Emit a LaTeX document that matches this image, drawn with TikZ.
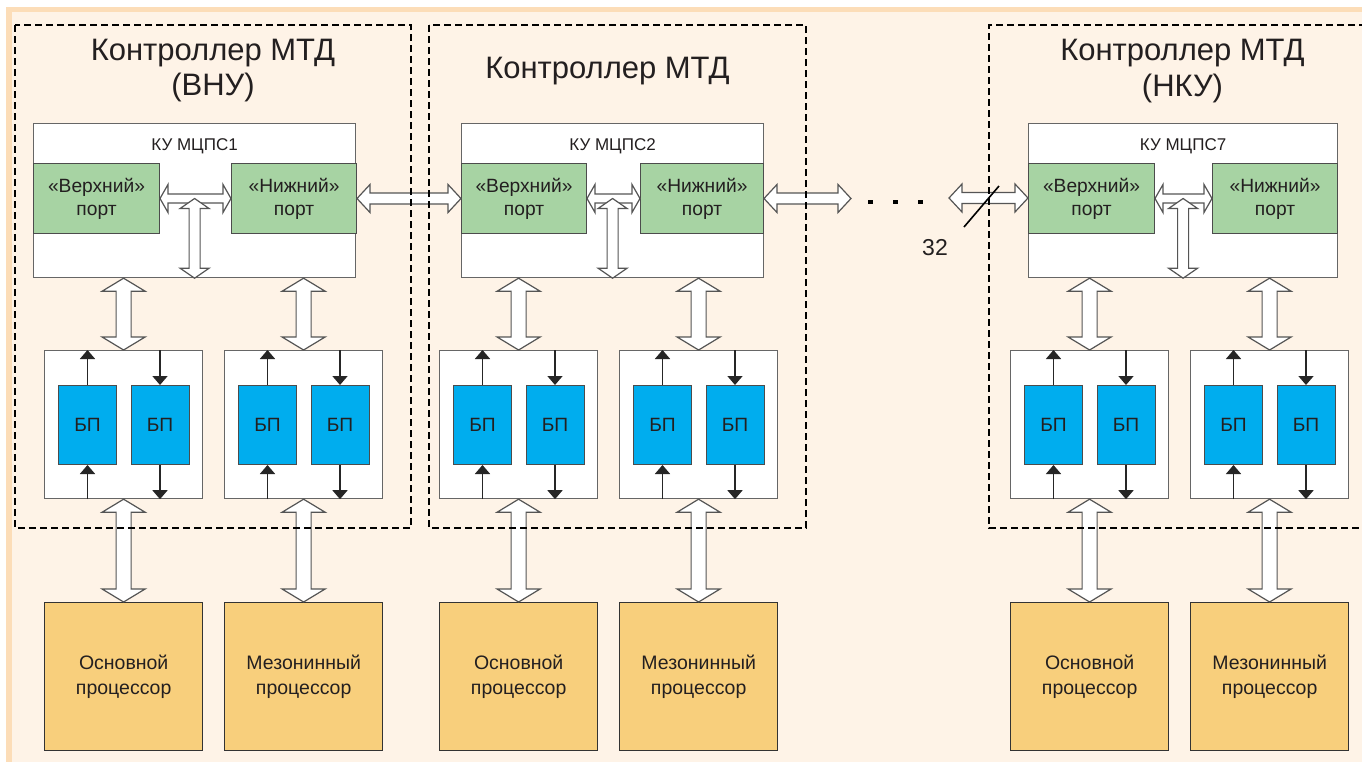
\documentclass[tikz,border=0pt]{standalone}
\usepackage{fontspec}
\setmainfont{Liberation Sans}
\usetikzlibrary{arrows.meta,calc}
\definecolor{cream}{HTML}{FEF3E7}
\definecolor{bandor}{HTML}{FCDDB8}
\definecolor{portgreen}{HTML}{A7D3A3}
\definecolor{bpblue}{HTML}{00ADEE}
\definecolor{procyel}{HTML}{F8CF7C}
\definecolor{arrgray}{HTML}{555555}
\definecolor{txt}{HTML}{231F20}
\newcommand\FatH[5]{%
  \path let \p1=#1, \p2=#2 in (\x1,\y1) coordinate (fa1) (\x2,\y1) coordinate (fa2);
  \draw[fatarrow] (fa1) -- ++(#5,#4) -- ++(0,-#4+#3) -- ($(fa2)+(-#5,#3)$) -- ++(0,#4-#3) -- (fa2)
    -- ++(-#5,-#4) -- ++(0,#4-#3) -- ($(fa1)+(#5,-#3)$) -- ++(0,-#4+#3) -- cycle;}
\newcommand\FatV[5]{%
  \path let \p1=#1, \p2=#2 in (\x1,\y1) coordinate (fa1) (\x1,\y2) coordinate (fa2);
  \draw[fatarrow] (fa1) -- ++(#4,#5) -- ++(-#4+#3,0) -- ($(fa2)+(#3,-#5)$) -- ++(#4-#3,0) -- (fa2)
    -- ++(-#4,-#5) -- ++(#4-#3,0) -- ($(fa1)+(-#3,#5)$) -- ++(-#4+#3,0) -- cycle;}
\newcommand\BPUnit[4]{%
  \node[bpbox] (#1) at (#2,350) {};
  \node[bpblk] (#1l) at (#2+14,385) {БП};
  \node[bpblk] (#1r) at (#2+86.5,385) {БП};
  \node[procbox] (#1p) at (#2,602) {#4};
  \draw[thinarr] (#1l.north) -- (#1l.north |- #1.north);
  \draw[thinarr] (#1l.south |- #1.south) -- (#1l.south);
  \draw[thinarr] (#1r.north |- #1.north) -- (#1r.north);
  \draw[thinarr] (#1r.south) -- (#1r.south |- #1.south);
  \FatV{(#1.north |- #3.south)}{(#1.north)}{7.5}{21.5}{13}
  \FatV{(#1.south)}{(#1p.north)}{7.5}{21.5}{13}}
\begin{document}
\begin{tikzpicture}[x=0.5pt,y=-0.5pt, every node/.style={text=txt},
  kubox/.style={draw=black!60, fill=white, line width=0.6pt, inner sep=0pt, anchor=north west, minimum height=77pt},
  portbox/.style={draw=black!70, fill=portgreen, line width=0.5pt, inner sep=0pt, anchor=north west, minimum height=35pt, align=center, font=\fontsize{9.6pt}{11.5pt}\selectfont},
  bpbox/.style={draw=black!60, fill=white, line width=0.6pt, inner sep=0pt, anchor=north west, minimum width=79pt, minimum height=74pt},
  bpblk/.style={draw=black!70, fill=bpblue, line width=0.5pt, inner sep=0pt, anchor=north west, minimum width=29pt, minimum height=39.5pt, font=\fontsize{9.6pt}{10pt}\selectfont},
  procbox/.style={draw=black!80, fill=procyel, line width=0.7pt, inner sep=0pt, anchor=north west, minimum width=79pt, minimum height=74pt, align=center, font=\fontsize{9.75pt}{12.5pt}\selectfont},
  fatarrow/.style={draw=arrgray, fill=white, line width=0.6pt, line join=miter},
  thinarr/.style={draw=black!85, line width=0.8pt, -{Triangle[width=7.5pt,length=4.5pt]}},
  dashbox/.style={draw=black, line width=0.75pt, dash pattern=on 3.5pt off 2pt},
  title/.style={anchor=base, font=\fontsize{15.5pt}{19pt}\selectfont},
  kulabel/.style={anchor=base, font=\fontsize{8.5pt}{10pt}\selectfont}]
\useasboundingbox (0,0) rectangle (1362,762);
\fill[white] (0,0) rectangle (1362,762);
\fill[bandor] (6,7) rectangle (1362,762);
\fill[cream] (12,12) rectangle (1362,762);
% titles
\node[title] (t1a) at (213,60) {Контроллер МТД};
\node[title] (t1b) at (213,95) {(ВНУ)};
\node[title] (t2) at (607.5,78) {Контроллер МТД};
\node[title] (t3a) at (1182.5,60) {Контроллер МТД};
\node[title] (t3b) at (1182.5,96) {(НКУ)};
% KU boxes
\node[kubox, minimum width=161pt] (ku1) at (33,123) {};
\node[kubox, minimum width=151pt] (ku2) at (461,123) {};
\node[kubox, minimum width=154.5pt] (ku3) at (1028,123) {};
\node[kulabel] (ku1t) at ($(ku1.north)+(0,27)$) {КУ МЦПС1};
\node[kulabel] (ku2t) at ($(ku2.north)+(0,27)$) {КУ МЦПС2};
\node[kulabel] (ku3t) at ($(ku3.north)+(0,27)$) {КУ МЦПС7};
\node[portbox, minimum width=63pt] (v1) at (33,163) {«Верхний»\\порт};
\node[portbox, minimum width=62.5pt] (n1) at (231,163) {«Нижний»\\порт};
\node[portbox, minimum width=62.5pt] (v2) at (461,163) {«Верхний»\\порт};
\node[portbox, minimum width=61.5pt] (n2) at (640,163) {«Нижний»\\порт};
\node[portbox, minimum width=63pt] (v3) at (1028,163) {«Верхний»\\порт};
\node[portbox, minimum width=62.5pt] (n3) at (1212,163) {«Нижний»\\порт};
% arrows in KU
\FatH{(v1.east)}{(n1.west)}{4.5}{14}{8}
\FatV{(ku1.south |- v1.east)}{(ku1.south)}{5.5}{14.5}{10}
\FatH{(v2.east)}{(n2.west)}{4.5}{14}{8}
\FatV{(ku2.south |- v2.east)}{(ku2.south)}{5.5}{14.5}{10}
\FatH{(v3.east)}{(n3.west)}{4.5}{14}{8}
\FatV{(ku3.south |- v3.east)}{(ku3.south)}{5.5}{14.5}{10}
% arrows between controllers
\coordinate (dotsL) at (851,198);
\coordinate (dotsR) at (949,198);
\FatH{(n1.east)}{(v2.west)}{5.5}{14}{13}
\FatH{(n2.east)}{(dotsL)}{5.5}{14}{13}
\FatH{(dotsR)}{(v3.west)}{5.5}{14}{13}
\foreach \i/\xx in {1/870.5,2/895.5,3/920.5}
  \node[fill=black, inner sep=0pt, minimum width=2.5pt, minimum height=2pt] (dot\i) at (\xx,202) {};
\draw[line width=0.8pt] (964,227) -- (999,186);
\node[anchor=base, font=\fontsize{11.5pt}{13pt}\selectfont] (bw) at (935,255) {32};
% BP units and processors
\BPUnit{a1}{44}{ku1}{Основной\\процессор}
\BPUnit{b1}{224}{ku1}{Мезонинный\\процессор}
\BPUnit{a2}{439}{ku2}{Основной\\процессор}
\BPUnit{b2}{619}{ku2}{Мезонинный\\процессор}
\BPUnit{a3}{1010}{ku3}{Основной\\процессор}
\BPUnit{b3}{1190}{ku3}{Мезонинный\\процессор}
% dashed controller frames
\draw[dashbox] (15,25) rectangle (411,528);
\draw[dashbox] (429,25) rectangle (806,528);
\draw[dashbox] (1366,25) -- (989,25) -- (989,528) -- (1366,528);
\end{tikzpicture}
\end{document}
